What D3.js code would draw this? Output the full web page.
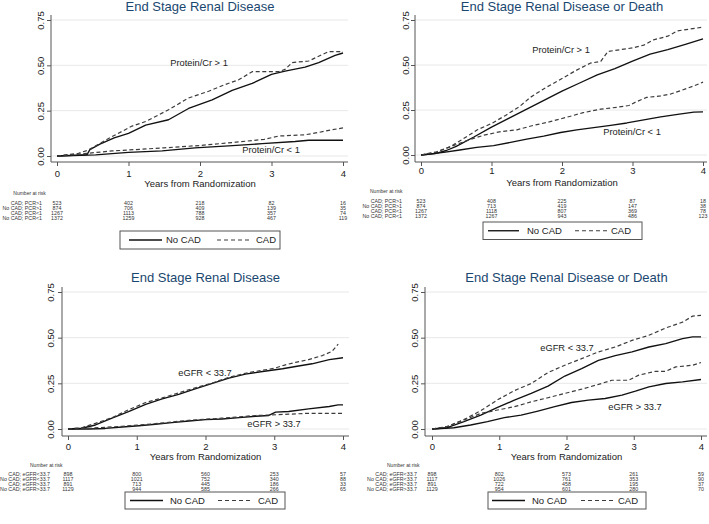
<!DOCTYPE html>
<html><head><meta charset="utf-8">
<script src="https://cdn.jsdelivr.net/npm/d3@7/dist/d3.min.js"></script>
<style>body{margin:0;background:#fff}svg{display:block}text{font-family:"Liberation Sans",Arial,Helvetica,sans-serif}</style>
</head><body><svg id="c" width="709" height="524"></svg>
<script>
// ---------- DATA ----------
const years = [0, 1, 2, 3, 4];
const yTicks = [0, 0.25, 0.5, 0.75];
const titles = ["End Stage Renal Disease", "End Stage Renal Disease or Death", "End Stage Renal Disease", "End Stage Renal Disease or Death"];
const xAxisTitle = "Years from Randomization";
const legendLabels = ["No CAD", "CAD"];
const pcrLabels = ["Protein/Cr > 1", "Protein/Cr < 1"];
const egfrLabels = ["eGFR < 33.7", "eGFR > 33.7"];

// Panel A: ESRD by protein/creatinine ratio  [years, cumulative incidence]
const esrdPcrHighNoCad = [[0,0],[0.3,0.005],[0.42,0.008],[0.46,0.035],[0.6,0.065],[0.8,0.1],[1.0,0.125],[1.24,0.17],[1.56,0.2],[1.84,0.262],[2.17,0.31],[2.45,0.362],[2.73,0.4],[3.0,0.45],[3.19,0.468],[3.47,0.49],[3.66,0.515],[3.89,0.555],[4.0,0.568]];
const esrdPcrHighCad = [[0,0],[0.3,0.015],[0.44,0.033],[0.77,0.107],[1.05,0.165],[1.24,0.19],[1.56,0.255],[1.84,0.32],[2.12,0.357],[2.35,0.394],[2.54,0.42],[2.73,0.465],[3.1,0.465],[3.19,0.478],[3.29,0.515],[3.52,0.524],[3.66,0.55],[3.8,0.576],[4.0,0.576]];
const esrdPcrLowNoCad = [[0,0],[0.54,0.006],[1.0,0.02],[1.47,0.028],[1.93,0.045],[2.4,0.056],[2.87,0.068],[3.33,0.08],[3.52,0.087],[4.0,0.087]];
const esrdPcrLowCad = [[0,0],[0.3,0.01],[0.77,0.028],[1.0,0.033],[1.5,0.045],[2.0,0.058],[2.5,0.076],[2.9,0.092],[3.1,0.11],[3.47,0.117],[3.66,0.13],[3.85,0.145],[4.0,0.155]];

// Panel B: ESRD or death by protein/creatinine ratio
const deathPcrHighNoCad = [[0,0],[0.2,0.008],[0.36,0.025],[0.5,0.048],[0.75,0.1],[1.0,0.155],[1.25,0.205],[1.5,0.255],[1.75,0.305],[2.0,0.355],[2.25,0.4],[2.5,0.445],[2.75,0.48],[3.0,0.522],[3.25,0.56],[3.5,0.585],[3.75,0.615],[4.0,0.645]];
const deathPcrHighCad = [[0,0],[0.22,0.015],[0.41,0.045],[0.6,0.09],[0.8,0.14],[1.0,0.175],[1.2,0.22],[1.4,0.27],[1.55,0.32],[1.75,0.37],[2.0,0.425],[2.2,0.47],[2.4,0.51],[2.55,0.52],[2.65,0.575],[3.0,0.595],[3.16,0.61],[3.3,0.64],[3.5,0.66],[3.64,0.69],[3.82,0.7],[4.0,0.71]];
const deathPcrLowNoCad = [[0,0],[0.32,0.015],[0.55,0.028],[0.79,0.042],[1.03,0.052],[1.27,0.07],[1.5,0.088],[1.74,0.105],[1.98,0.125],[2.21,0.14],[2.45,0.152],[2.69,0.165],[2.92,0.178],[3.16,0.195],[3.4,0.212],[3.64,0.226],[3.87,0.238],[4.0,0.24]];
const deathPcrLowCad = [[0,0],[0.22,0.018],[0.41,0.045],[0.65,0.08],[0.89,0.11],[1.13,0.13],[1.36,0.14],[1.6,0.165],[1.83,0.185],[2.07,0.21],[2.3,0.235],[2.55,0.255],[2.78,0.265],[2.95,0.275],[3.05,0.295],[3.2,0.32],[3.4,0.328],[3.55,0.34],[3.7,0.36],[3.88,0.385],[4.0,0.405]];

// Panel C: ESRD by eGFR
const esrdEgfrLowNoCad = [[0,0],[0.2,0.004],[0.4,0.022],[0.64,0.059],[0.88,0.095],[1.13,0.135],[1.37,0.165],[1.61,0.19],[1.85,0.22],[2.1,0.25],[2.34,0.278],[2.58,0.3],[2.83,0.315],[3.12,0.33],[3.31,0.342],[3.55,0.357],[3.8,0.38],[4.0,0.39]];
const esrdEgfrLowCad = [[0,0],[0.2,0.007],[0.4,0.031],[0.64,0.062],[0.88,0.105],[1.13,0.145],[1.37,0.17],[1.61,0.198],[1.85,0.225],[2.1,0.252],[2.34,0.283],[2.58,0.305],[2.83,0.322],[3.0,0.332],[3.15,0.35],[3.31,0.365],[3.5,0.38],[3.7,0.402],[3.84,0.425],[3.93,0.465]];
const esrdEgfrHighNoCad = [[0,0],[0.3,0],[0.54,0.003],[0.79,0.011],[1.03,0.018],[1.27,0.026],[1.51,0.035],[1.76,0.044],[2.0,0.051],[2.24,0.055],[2.49,0.062],[2.73,0.07],[2.92,0.074],[3.02,0.092],[3.21,0.096],[3.5,0.11],[3.8,0.123],[3.93,0.132],[4.0,0.132]];
const esrdEgfrHighCad = [[0,0],[0.3,0.004],[0.79,0.015],[1.27,0.029],[1.76,0.048],[2.24,0.059],[2.73,0.074],[2.97,0.077],[3.21,0.081],[3.5,0.086],[4.0,0.086]];

// Panel D: ESRD or death by eGFR
const deathEgfrLowNoCad = [[0,0],[0.225,0.007],[0.475,0.04],[0.725,0.076],[0.975,0.118],[1.225,0.158],[1.475,0.195],[1.725,0.235],[1.975,0.29],[2.225,0.331],[2.475,0.376],[2.725,0.402],[2.975,0.422],[3.225,0.449],[3.475,0.467],[3.725,0.495],[3.875,0.504],[4.0,0.504]];
const deathEgfrLowCad = [[0,0],[0.225,0.013],[0.475,0.052],[0.725,0.1],[0.975,0.16],[1.225,0.21],[1.475,0.249],[1.725,0.309],[1.975,0.349],[2.225,0.385],[2.475,0.422],[2.725,0.449],[2.975,0.485],[3.225,0.513],[3.475,0.553],[3.725,0.585],[3.875,0.618],[4.0,0.622]];
const deathEgfrHighNoCad = [[0,0],[0.325,0.007],[0.575,0.022],[0.825,0.04],[1.075,0.062],[1.325,0.076],[1.575,0.098],[1.825,0.122],[2.075,0.145],[2.325,0.158],[2.575,0.167],[2.825,0.185],[3.025,0.207],[3.225,0.231],[3.475,0.249],[3.725,0.258],[4.0,0.271]];
const deathEgfrHighCad = [[0,0],[0.225,0.013],[0.475,0.049],[0.725,0.085],[0.975,0.104],[1.225,0.122],[1.475,0.149],[1.725,0.171],[1.975,0.195],[2.225,0.218],[2.475,0.244],[2.675,0.267],[2.925,0.267],[3.075,0.295],[3.325,0.316],[3.475,0.316],[3.625,0.34],[3.875,0.349],[4.0,0.364]];

// Number at risk
const riskHeader = "Number at risk";
const riskPcrRows = ["CAD; PCR>1", "No CAD; PCR>1", "CAD; PCR<1", "No CAD; PCR<1"];
const riskEgfrRows = ["CAD; eGFR<33.7", "No CAD; eGFR<33.7", "CAD; eGFR>33.7", "No CAD; eGFR>33.7"];
const riskEsrdPcr = [[523,402,218,82,16],[874,706,409,139,35],[1267,1113,788,357,74],[1372,1259,928,467,119]];
const riskDeathPcr = [[523,408,225,87,18],[874,713,419,147,38],[1267,1118,807,369,78],[1372,1267,943,486,123]];
const riskEsrdEgfr = [[898,800,560,253,57],[1117,1021,752,340,88],[891,713,445,186,33],[1129,944,585,266,65]];
const riskDeathEgfr = [[898,802,573,261,59],[1117,1026,761,353,90],[891,722,458,195,37],[1129,954,601,280,70]];

// ---------- LAYOUT ----------
const layouts = [
  {axisX:51, right:348, top:15, axisY:162, x0:57, x4:343, yBase:156, yTop:20, titleY:10.5, tickLabY:176.5, xTitleY:186.5, yLabX:43.5,
   narX:13.3, narY:195, rowLabX:42, rowY0:204.8, rowStep:5,
   legend:{x:120, y:231, w:160, h:18, l1:[129,162], t1:166, l2:[217,250], t2:256},
   lab1:[199,66.3], lab2:[271,153]},
  {axisX:415, right:707, top:15, axisY:162, x0:421, x4:703, yBase:155, yTop:20, titleY:10.5, tickLabY:174, xTitleY:185.5, yLabX:408.5,
   narX:370, narY:192.5, rowLabX:402, rowY0:202.5, rowStep:5,
   legend:{x:483, y:222, w:159, h:17.5, l1:[488,519], t1:527, l2:[575,607], t2:611},
   lab1:[561,53], lab2:[632,134.5]},
  {axisX:62, right:349, top:287, axisY:436, x0:68, x4:343, yBase:429, yTop:292, titleY:282, tickLabY:449.5, xTitleY:459.5, yLabX:53.5,
   narX:30, narY:466.5, rowLabX:50, rowY0:476, rowStep:5,
   legend:{x:125, y:492, w:160, h:17, l1:[130,163], t1:170, l2:[218,252], t2:258},
   lab1:[205,375.5], lab2:[274,427]},
  {axisX:425, right:707, top:287, axisY:436, x0:432, x4:701, yBase:429, yTop:292, titleY:282, tickLabY:449.5, xTitleY:459.5, yLabX:417.5,
   narX:387, narY:466.5, rowLabX:417, rowY0:476, rowStep:5,
   legend:{x:488, y:492, w:158, h:17, l1:[492,525], t1:532, l2:[581,614], t2:618},
   lab1:[567,350.5], lab2:[635,410]}
];

const panels = [
  {curves:[esrdPcrHighNoCad, esrdPcrHighCad, esrdPcrLowNoCad, esrdPcrLowCad], labels:pcrLabels, rows:riskPcrRows, risk:riskEsrdPcr},
  {curves:[deathPcrHighNoCad, deathPcrHighCad, deathPcrLowNoCad, deathPcrLowCad], labels:pcrLabels, rows:riskPcrRows, risk:riskDeathPcr},
  {curves:[esrdEgfrLowNoCad, esrdEgfrLowCad, esrdEgfrHighNoCad, esrdEgfrHighCad], labels:egfrLabels, rows:riskEgfrRows, risk:riskEsrdEgfr},
  {curves:[deathEgfrLowNoCad, deathEgfrLowCad, deathEgfrHighNoCad, deathEgfrHighCad], labels:egfrLabels, rows:riskEgfrRows, risk:riskDeathEgfr}
];

// ---------- STYLE ----------
const titleColor = "#1a476f";
const axisColor = "#555";
const gridColor = "#e8e8e8";
const solidStyle = {stroke:"#111", width:1.35, dash:null};
const dashStyle = {stroke:"#3c3c3c", width:1.2, dash:"4,2.6"};
const curveStyles = [solidStyle, dashStyle, solidStyle, dashStyle];

const svg = d3.select("#c");
svg.append("rect").attr("width",709).attr("height",524).attr("fill","#fff");

panels.forEach((p, i) => {
  const L = layouts[i];
  const g = svg.append("g");
  const x = d3.scaleLinear().domain([0,4]).range([L.x0, L.x4]);
  const y = d3.scaleLinear().domain([0,0.75]).range([L.yBase, L.yTop]);

  // gridlines
  g.selectAll(".grid").data(yTicks).join("line")
    .attr("x1", L.axisX).attr("x2", L.right)
    .attr("y1", d => y(d)).attr("y2", d => y(d))
    .attr("stroke", gridColor).attr("stroke-width", 1);

  // title
  g.append("text").attr("x", (L.x0 + L.x4)/2).attr("y", L.titleY)
    .attr("text-anchor","middle").attr("font-size",13).attr("fill",titleColor).text(titles[i]);

  // y axis
  const ya = g.append("g").attr("transform", `translate(${L.axisX},0)`)
    .call(d3.axisLeft(y).tickValues(yTicks).tickSize(4).tickSizeOuter(0).tickFormat(d3.format(".2f")));
  ya.select(".domain").remove();
  ya.selectAll(".tick line").attr("stroke", axisColor);
  ya.selectAll(".tick text").attr("x", null).attr("dy", null)
    .attr("transform", `translate(${L.yLabX - L.axisX},0) rotate(-90)`)
    .attr("text-anchor","middle").attr("font-size",9.5).attr("fill","#222")
    .style("font-family",'"Liberation Sans",Arial,sans-serif');
  g.append("line").attr("x1",L.axisX).attr("x2",L.axisX).attr("y1",L.top).attr("y2",L.axisY)
    .attr("stroke",axisColor).attr("stroke-width",1);

  // x axis
  const xa = g.append("g").attr("transform", `translate(0,${L.axisY})`)
    .call(d3.axisBottom(x).tickValues(years).tickSize(4).tickSizeOuter(0).tickFormat(d3.format("d")));
  xa.select(".domain").remove();
  xa.selectAll(".tick line").attr("stroke", axisColor);
  xa.selectAll(".tick text").attr("y", L.tickLabY - L.axisY).attr("dy", null)
    .attr("font-size",9.5).attr("fill","#222")
    .style("font-family",'"Liberation Sans",Arial,sans-serif');
  g.append("line").attr("x1",L.axisX).attr("x2",L.right).attr("y1",L.axisY).attr("y2",L.axisY)
    .attr("stroke",axisColor).attr("stroke-width",1);
  g.append("text").attr("x",(L.x0 + L.x4)/2).attr("y",L.xTitleY).attr("text-anchor","middle")
    .attr("font-size",9.5).attr("fill","#222").text(xAxisTitle);

  // curves
  const line = d3.line().x(d => x(d[0])).y(d => y(d[1])).curve(d3.curveLinear);
  p.curves.forEach((c, k) => {
    const s = curveStyles[k];
    g.append("path").datum(c).attr("d", line).attr("fill","none")
      .attr("stroke", s.stroke).attr("stroke-width", s.width)
      .attr("stroke-dasharray", s.dash).attr("stroke-linejoin","round");
  });

  // curve labels
  g.append("text").attr("x",L.lab1[0]).attr("y",L.lab1[1]).attr("text-anchor","middle")
    .attr("font-size",9.3).attr("fill","#222").text(p.labels[0]);
  g.append("text").attr("x",L.lab2[0]).attr("y",L.lab2[1]).attr("text-anchor","middle")
    .attr("font-size",9.3).attr("fill","#222").text(p.labels[1]);

  // number at risk
  g.append("text").attr("x",L.narX).attr("y",L.narY).attr("font-size",5).attr("fill","#333").text(riskHeader);
  p.rows.forEach((r, ri) => {
    const ry = L.rowY0 + ri * L.rowStep;
    g.append("text").attr("x",L.rowLabX).attr("y",ry).attr("text-anchor","end")
      .attr("font-size",5.3).attr("fill","#333").text(r);
    g.selectAll(null).data(p.risk[ri]).join("text")
      .attr("x",(d,j) => x(years[j])).attr("y",ry).attr("text-anchor","middle")
      .attr("font-size",5.3).attr("fill","#333").text(d => d);
  });

  // legend
  const lg = L.legend;
  g.append("rect").attr("x",lg.x).attr("y",lg.y).attr("width",lg.w).attr("height",lg.h)
    .attr("fill","#fff").attr("stroke","#555").attr("stroke-width",1);
  const cy = lg.y + lg.h/2;
  g.append("line").attr("x1",lg.l1[0]).attr("x2",lg.l1[1]).attr("y1",cy).attr("y2",cy)
    .attr("stroke",solidStyle.stroke).attr("stroke-width",solidStyle.width);
  g.append("text").attr("x",lg.t1).attr("y",cy+3.4).attr("font-size",9.5).attr("fill","#222").text(legendLabels[0]);
  g.append("line").attr("x1",lg.l2[0]).attr("x2",lg.l2[1]).attr("y1",cy).attr("y2",cy)
    .attr("stroke",dashStyle.stroke).attr("stroke-width",dashStyle.width).attr("stroke-dasharray","4,3");
  g.append("text").attr("x",lg.t2).attr("y",cy+3.4).attr("font-size",9.5).attr("fill","#222").text(legendLabels[1]);
});
</script>
</body></html>
